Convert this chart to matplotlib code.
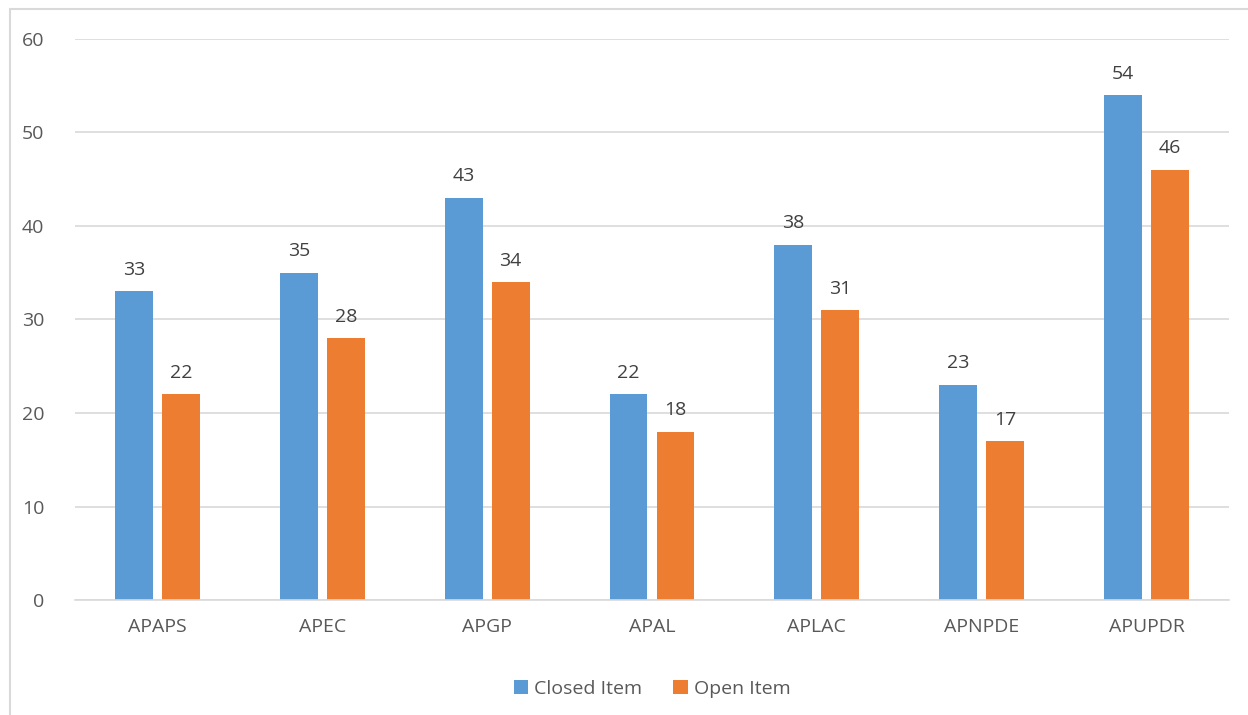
import numpy as np
import matplotlib.pyplot as plt
from matplotlib.patches import Rectangle

categories = ['APAPS', 'APEC', 'APGP', 'APAL', 'APLAC', 'APNPDE', 'APUPDR']
closed_item = [33, 35, 43, 22, 38, 23, 54]
open_item = [22, 28, 34, 18, 31, 17, 46]

plt.rcParams['font.family'] = ['Open Sans', 'DejaVu Sans']
text_color = '#595959'

fig = plt.figure(figsize=(12.48, 7.15), dpi=100)
ax = fig.add_axes([0.0601, 0.1608, 0.9247, 0.7847])

x = np.arange(len(categories))
w = 0.23
gap = 0.055
b1 = ax.bar(x - (w + gap) / 2, closed_item, w, color='#5B9BD5', label='Closed Item')
b2 = ax.bar(x + (w + gap) / 2, open_item, w, color='#ED7D31', label='Open Item')

for bars in (b1, b2):
    for rect in bars:
        h = rect.get_height()
        ax.annotate(str(int(h)), (rect.get_x() + rect.get_width() / 2, h),
                    xytext=(0, 9), textcoords='offset points',
                    ha='center', va='bottom', fontsize=14, color='#404040')

ax.set_xlim(-0.5, len(categories) - 0.5)
ax.set_ylim(0, 60)
ax.set_yticks(range(0, 61, 10))
ax.set_xticks(x)
ax.set_xticklabels(categories)
ax.yaxis.grid(True, color='#D9D9D9', linewidth=1.2)
ax.set_axisbelow(True)
for s in ['top', 'right', 'left']:
    ax.spines[s].set_visible(False)
ax.spines['bottom'].set_color('#D9D9D9')
ax.spines['bottom'].set_linewidth(1.2)
ax.tick_params(axis='both', length=0, labelsize=14, colors=text_color)
ax.tick_params(axis='y', pad=22)
ax.tick_params(axis='x', pad=13)

ax.legend(loc='lower center', bbox_to_anchor=(0.5, -0.205), ncol=2, frameon=False,
          fontsize=14, labelcolor=text_color, handlelength=0.75, handleheight=0.75,
          handletextpad=0.3, columnspacing=1.6)

fig.patches.append(Rectangle((10 / 1248, -0.1), 1.2, 1 - 9 / 715 + 0.1,
                             transform=fig.transFigure, fill=False,
                             edgecolor='#D9D9D9', linewidth=1.5))

fig.savefig('out.png', dpi=100)
